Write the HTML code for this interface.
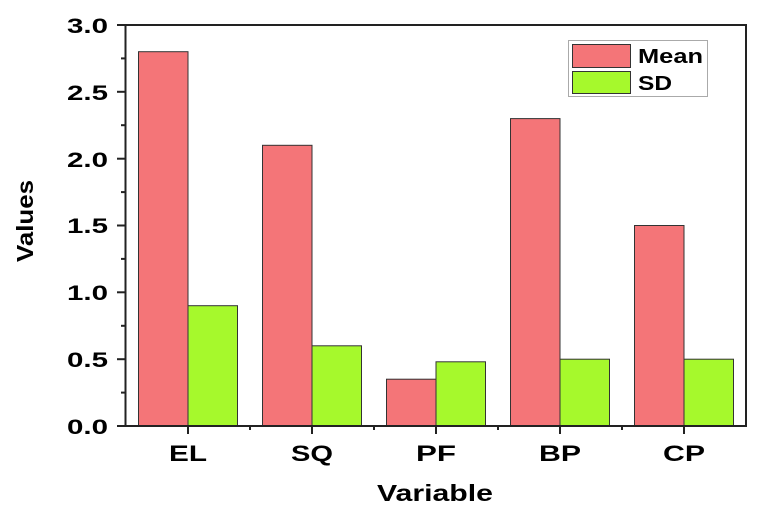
<!DOCTYPE html>
<html><head><style>body{margin:0;background:#fff}svg{display:block}text{font-family:"Liberation Sans",Arial,sans-serif;font-weight:bold;fill:#000}</style></head>
<body>
<svg width="771" height="519" viewBox="0 0 771 519" xmlns="http://www.w3.org/2000/svg">
<rect width="771" height="519" fill="#fff"/>
<g stroke="#333" stroke-width="1">
<rect x="138.5" y="51.7" width="49.5" height="374.3" fill="#f47578"/>
<rect x="188" y="305.7" width="49.5" height="120.3" fill="#a6f92c"/>
<rect x="262.5" y="145.3" width="49.5" height="280.7" fill="#f47578"/>
<rect x="312" y="345.8" width="49.5" height="80.2" fill="#a6f92c"/>
<rect x="386.5" y="379.2" width="49.5" height="46.8" fill="#f47578"/>
<rect x="436" y="361.8" width="49.5" height="64.2" fill="#a6f92c"/>
<rect x="510.5" y="118.6" width="49.5" height="307.4" fill="#f47578"/>
<rect x="560" y="359.2" width="49.5" height="66.8" fill="#a6f92c"/>
<rect x="634.5" y="225.5" width="49.5" height="200.5" fill="#f47578"/>
<rect x="684" y="359.2" width="49.5" height="66.8" fill="#a6f92c"/>
</g>
<rect x="125.5" y="25" width="620.5" height="401" fill="none" stroke="#222" stroke-width="2"/>
<g stroke="#222" stroke-width="2">
<line x1="117" y1="426" x2="125" y2="426"/><line x1="117" y1="359.2" x2="125" y2="359.2"/><line x1="117" y1="292.3" x2="125" y2="292.3"/><line x1="117" y1="225.5" x2="125" y2="225.5"/><line x1="117" y1="158.7" x2="125" y2="158.7"/><line x1="117" y1="91.8" x2="125" y2="91.8"/><line x1="117" y1="25" x2="125" y2="25"/>
<line x1="121" y1="392.6" x2="125" y2="392.6"/><line x1="121" y1="325.8" x2="125" y2="325.8"/><line x1="121" y1="258.9" x2="125" y2="258.9"/><line x1="121" y1="192.1" x2="125" y2="192.1"/><line x1="121" y1="125.2" x2="125" y2="125.2"/><line x1="121" y1="58.4" x2="125" y2="58.4"/>
<line x1="188" y1="426" x2="188" y2="434"/><line x1="312" y1="426" x2="312" y2="434"/><line x1="436" y1="426" x2="436" y2="434"/><line x1="560" y1="426" x2="560" y2="434"/><line x1="684" y1="426" x2="684" y2="434"/>
<line x1="250" y1="426" x2="250" y2="430"/><line x1="374" y1="426" x2="374" y2="430"/><line x1="498" y1="426" x2="498" y2="430"/><line x1="622" y1="426" x2="622" y2="430"/>
</g>
<g font-size="21">
<text x="67" y="434" textLength="41" lengthAdjust="spacingAndGlyphs">0.0</text>
<text x="67" y="367" textLength="41" lengthAdjust="spacingAndGlyphs">0.5</text>
<text x="67" y="300" textLength="41" lengthAdjust="spacingAndGlyphs">1.0</text>
<text x="67" y="233" textLength="41" lengthAdjust="spacingAndGlyphs">1.5</text>
<text x="67" y="167" textLength="41" lengthAdjust="spacingAndGlyphs">2.0</text>
<text x="67" y="100" textLength="41" lengthAdjust="spacingAndGlyphs">2.5</text>
<text x="67" y="33" textLength="41" lengthAdjust="spacingAndGlyphs">3.0</text>
</g>
<g font-size="22">
<text x="169" y="461" textLength="38" lengthAdjust="spacingAndGlyphs">EL</text>
<text x="291" y="461" textLength="42" lengthAdjust="spacingAndGlyphs">SQ</text>
<text x="416" y="461" textLength="40" lengthAdjust="spacingAndGlyphs">PF</text>
<text x="539" y="461" textLength="42" lengthAdjust="spacingAndGlyphs">BP</text>
<text x="663" y="461" textLength="42" lengthAdjust="spacingAndGlyphs">CP</text>
</g>
<text x="377" y="501" font-size="23" textLength="116" lengthAdjust="spacingAndGlyphs">Variable</text>
<text transform="translate(33,262) rotate(-90)" font-size="23" textLength="82" lengthAdjust="spacingAndGlyphs">Values</text>
<rect x="568.5" y="40.5" width="139" height="56" fill="#fff" stroke="#aaa" stroke-width="1"/>
<rect x="572.5" y="44.5" width="58" height="23" fill="#f47578" stroke="#333"/>
<rect x="572.5" y="71.5" width="58" height="22" fill="#a6f92c" stroke="#333"/>
<text x="638" y="63" font-size="20" textLength="65" lengthAdjust="spacingAndGlyphs">Mean</text>
<text x="638" y="90" font-size="20" textLength="34" lengthAdjust="spacingAndGlyphs">SD</text>
</svg>
</body></html>
